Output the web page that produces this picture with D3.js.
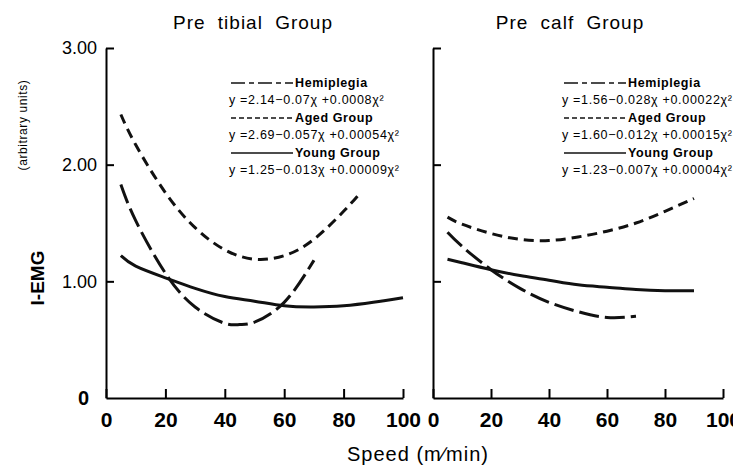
<!DOCTYPE html>
<html>
<head>
<meta charset="utf-8">
<script src="https://cdn.jsdelivr.net/npm/d3@7"></script>
<style>
  body { margin: 0; background: #fff; }
  svg { display: block; font-family: "Liberation Sans", Arial, sans-serif; }
  .x-axis text { font-family: "Liberation Sans Narrow", "Liberation Sans", sans-serif; font-weight: bold; font-size: 21px; }
  .y-axis text { font-size: 18px; }
  .legend text { font-size: 12.5px; }
</style>
</head>
<body>
<div id="container"></div>
<script>
/* DATA */
const xTicks = [0, 20, 40, 60, 80, 100];
const yTicks = [0, 1, 2, 3];

// Pre tibial group
const tibialHemiX = [5, 10, 20, 30, 40, 45, 50, 60, 70];
const tibialHemiY = [1.83, 1.52, 1.07, 0.78, 0.64, 0.63, 0.65, 0.82, 1.18];
const tibialAgedX = [5, 10, 20, 30, 40, 50, 60, 70, 80, 85];
const tibialAgedY = [2.43, 2.17, 1.76, 1.46, 1.27, 1.19, 1.22, 1.36, 1.60, 1.74];
const tibialYoungX = [5, 10, 20, 30, 40, 50, 60, 70, 80, 90, 100];
const tibialYoungY = [1.22, 1.13, 1.03, 0.94, 0.87, 0.83, 0.79, 0.78, 0.79, 0.82, 0.86];

// Pre calf group
const calfHemiX = [5, 10, 20, 30, 40, 50, 60, 70];
const calfHemiY = [1.42, 1.30, 1.10, 0.94, 0.82, 0.74, 0.69, 0.70];
const calfAgedX = [5, 10, 20, 30, 40, 50, 60, 70, 80, 90];
const calfAgedY = [1.55, 1.49, 1.41, 1.36, 1.35, 1.38, 1.43, 1.50, 1.60, 1.71];
const calfYoungX = [5, 10, 20, 30, 40, 50, 60, 70, 80, 90];
const calfYoungY = [1.19, 1.16, 1.10, 1.05, 1.01, 0.97, 0.95, 0.93, 0.92, 0.92];

const tibialLegend = ["Hemiplegia", "y =2.14\u22120.07\u03C7 +0.0008\u03C7\u00B2",
  "Aged  Group", "y =2.69\u22120.057\u03C7 +0.00054\u03C7\u00B2",
  "Young  Group", "y =1.25\u22120.013\u03C7 +0.00009\u03C7\u00B2"];
const calfLegend = ["Hemiplegia", "y =1.56\u22120.028\u03C7 +0.00022\u03C7\u00B2",
  "Aged   Group", "y =1.60\u22120.012\u03C7 +0.00015\u03C7\u00B2",
  "Young  Group", "y =1.23\u22120.007\u03C7 +0.00004\u03C7\u00B2"];

const width = 733, height = 471;
const dashes = { hemi: "20,6", aged: "10,6", young: null };

const svg = d3.select("#container")
  .append("svg")
  .attr("width", width)
  .attr("height", height);

const yScale = d3.scaleLinear().domain([0, 3]).range([398, 48]);

function zip(xs, ys) { return xs.map((x, i) => ({ x, y: ys[i] })); }

function panel(left, right, title, titleX, series, legend, legendX, showLabels) {
  const xScale = d3.scaleLinear().domain([0, 100]).range([left, right]);

  // x axis
  const xg = svg.append("g")
    .attr("class", "x-axis")
    .attr("transform", `translate(0, ${yScale(0)})`)
    .call(d3.axisBottom(xScale).tickValues(xTicks).tickSizeInner(-9).tickSizeOuter(0).tickPadding(14));
  xg.select(".domain").attr("stroke-width", 2);
  xg.selectAll(".tick line").attr("stroke-width", 2);

  // y axis
  const yg = svg.append("g")
    .attr("class", "y-axis")
    .attr("transform", `translate(${left}, 0)`)
    .call(d3.axisLeft(yScale).tickValues(yTicks).tickSizeInner(-8).tickSizeOuter(0).tickPadding(9)
      .tickFormat(d => showLabels ? (d === 0 ? "0" : d3.format(".2f")(d)) : ""));
  yg.select(".domain").attr("stroke-width", 2);
  yg.selectAll(".tick line").attr("stroke-width", 2);
  yg.selectAll(".tick").filter(d => d === 0).select("line").remove();
  yg.selectAll(".tick text").filter(d => d === 0)
    .attr("x", -17).style("font-weight", "bold").style("font-size", "20px");

  // title
  svg.append("text")
    .attr("x", titleX)
    .attr("y", 29)
    .attr("text-anchor", "middle")
    .style("font-size", "19px")
    .style("letter-spacing", "1px")
    .style("word-spacing", "6px")
    .text(title);

  // curves
  const line = d3.line().x(d => xScale(d.x)).y(d => yScale(d.y)).curve(d3.curveNatural);
  series.forEach(s => {
    svg.append("path")
      .datum(zip(s.x, s.y))
      .attr("fill", "none")
      .attr("stroke", "#111")
      .attr("stroke-width", 3)
      .attr("stroke-dasharray", dashes[s.key])
      .attr("d", line);
  });

  // legend
  const lg = svg.append("g").attr("class", "legend");
  const keys = ["hemi", "aged", "young"];
  keys.forEach((k, i) => {
    const y0 = 83 + i * 35;
    lg.append("line")
      .attr("x1", legendX + 2).attr("x2", legendX + 64)
      .attr("y1", y0).attr("y2", y0)
      .attr("stroke", "#111").attr("stroke-width", 1.6)
      .attr("stroke-dasharray", k === "hemi" ? "14,4,5,4" : k === "aged" ? "5,3" : null);
    lg.append("text")
      .attr("x", legendX + 66).attr("y", y0 + 4)
      .style("font-weight", "bold")
      .style("letter-spacing", "0.6px")
      .text(legend[i * 2]);
    lg.append("text")
      .attr("x", legendX).attr("y", y0 + 21)
      .style("letter-spacing", "0.7px")
      .text(legend[i * 2 + 1]);
  });
}

panel(106, 403, "Pre tibial Group", 253, [
  { key: "hemi", x: tibialHemiX, y: tibialHemiY },
  { key: "aged", x: tibialAgedX, y: tibialAgedY },
  { key: "young", x: tibialYoungX, y: tibialYoungY }
], tibialLegend, 229, true);

panel(433, 723, "Pre calf Group", 570, [
  { key: "hemi", x: calfHemiX, y: calfHemiY },
  { key: "aged", x: calfAgedX, y: calfAgedY },
  { key: "young", x: calfYoungX, y: calfYoungY }
], calfLegend, 562, false);

// y-axis title
svg.append("text")
  .attr("transform", "translate(44, 278) rotate(-90)")
  .attr("text-anchor", "middle")
  .style("font-weight", "bold")
  .style("font-size", "19px")
  .text("I-EMG");

svg.append("text")
  .attr("transform", "translate(27, 125) rotate(-90)")
  .attr("text-anchor", "middle")
  .style("font-size", "12px")
  .style("letter-spacing", "0.6px")
  .text("(arbitrary units)");

// x-axis title
svg.append("text")
  .attr("x", 418)
  .attr("y", 461)
  .attr("text-anchor", "middle")
  .style("font-size", "20px")
  .style("letter-spacing", "1px")
  .text("Speed (m\u2215min)");
</script>
</body>
</html>
